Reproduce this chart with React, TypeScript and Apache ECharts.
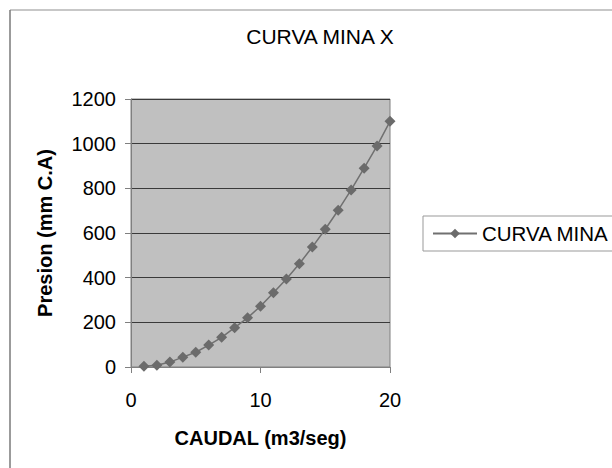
import React, { useEffect, useRef } from "react";
import * as echarts from "echarts";

const caudal = [1, 2, 3, 4, 5, 6, 7, 8, 9, 10, 11, 12, 13, 14, 15, 16, 17, 18, 19, 20];
const presion = [3, 8, 22, 44, 66, 98, 133, 176, 220, 272, 332, 394, 462, 537, 617, 702, 793, 890, 990, 1100];
const seriesName = "CURVA MINA";
const chartTitle = "CURVA MINA X";
const xName = "CAUDAL (m3/seg)";
const yName = "Presion (mm C.A)";

export default function App() {
  const ref = useRef<HTMLDivElement>(null);
  useEffect(() => {
    if (!ref.current) return;
    const chart = echarts.init(ref.current, null, { renderer: "svg" });
    const font = "Liberation Sans, Arial, sans-serif";
    chart.setOption({
      animation: false,
      backgroundColor: "#ffffff",
      textStyle: { fontFamily: font },
      title: {
        text: chartTitle,
        left: 320,
        top: 26,
        padding: 0,
        textAlign: "center",
        textStyle: { fontFamily: font, fontSize: 21, fontWeight: "normal", color: "#000" },
      },
      graphic: [
        { type: "line", shape: { x1: 10, y1: 10, x2: 620, y2: 10 }, style: { stroke: "#b5b5b5", lineWidth: 1.5 } },
        { type: "line", shape: { x1: 10, y1: 10, x2: 10, y2: 470 }, style: { stroke: "#7a7a7a", lineWidth: 1.5 } },
      ],
      legend: {
        left: 423,
        top: 216,
        padding: [7, 20, 7, 9],
        backgroundColor: "#fff",
        borderColor: "#999",
        borderWidth: 1,
        itemWidth: 44,
        itemHeight: 12,
        textStyle: { fontFamily: font, fontSize: 20.5, color: "#000" },
        data: [seriesName],
      },
      grid: {
        left: 131,
        top: 99,
        width: 259,
        height: 268,
        show: true,
        backgroundColor: "#c0c0c0",
        borderColor: "#808080",
        borderWidth: 1,
      },
      xAxis: {
        type: "value",
        min: 0,
        max: 20,
        interval: 10,
        name: xName,
        nameLocation: "middle",
        nameGap: 61,
        nameTextStyle: { fontFamily: font, fontSize: 20, fontWeight: "bold", color: "#000" },
        axisLine: { show: true, lineStyle: { color: "#808080", width: 1 } },
        axisTick: { show: true, inside: false, length: 6, lineStyle: { color: "#808080" } },
        axisLabel: { margin: 23, fontFamily: font, fontSize: 20, color: "#000", formatter: (v: number) => String(v) },
        splitLine: { show: false },
      },
      yAxis: {
        type: "value",
        min: 0,
        max: 1200,
        interval: 200,
        name: yName,
        nameLocation: "middle",
        nameGap: 76,
        nameRotate: 90,
        nameTextStyle: { fontFamily: font, fontSize: 20, fontWeight: "bold", color: "#000" },
        axisLine: { show: true, lineStyle: { color: "#808080", width: 1 } },
        axisTick: { show: true, inside: false, length: 6, lineStyle: { color: "#808080" } },
        axisLabel: { margin: 15, fontFamily: font, fontSize: 20, color: "#000", formatter: (v: number) => String(v) },
        splitLine: { show: true, lineStyle: { color: "#3a3a3a", width: 1 } },
      },
      series: [
        {
          name: seriesName,
          type: "line",
          data: caudal.map((x, i) => [x, presion[i]]),
          symbol: "diamond",
          symbolSize: 11,
          showSymbol: true,
          lineStyle: { color: "#707070", width: 1.5 },
          itemStyle: { color: "#6b6b6b" },
          clip: false,
        },
      ],
    });
    return () => chart.dispose();
  }, []);
  return (
    <div
      ref={ref}
      style={{ position: "fixed", left: 0, top: 0, width: 612, height: 468 }}
    />
  );
}
